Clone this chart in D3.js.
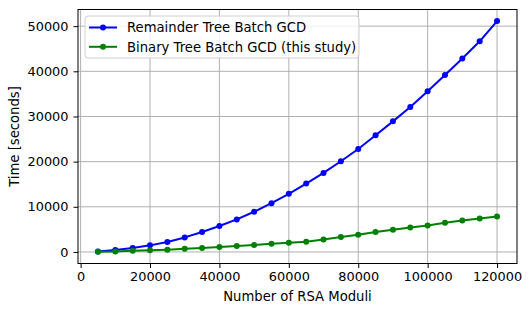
<!DOCTYPE html>
<html>
<head>
<meta charset="utf-8">
<script src="https://cdn.jsdelivr.net/npm/d3@7"></script>
<style>
  body { margin: 0; background: #fff; }
  text { font-family: "DejaVu Sans", sans-serif; }
</style>
</head>
<body>
<div id="chart"></div>
<script>
// number of moduli
const moduli = [5000, 10000, 15000, 20000, 25000, 30000, 35000, 40000, 45000, 50000,
  55000, 60000, 65000, 70000, 75000, 80000, 85000, 90000, 95000, 100000,
  105000, 110000, 115000, 120000];

// seconds
const remainderTree = [100, 450, 880, 1460, 2200, 3220, 4410, 5740, 7200, 8900,
  10800, 12870, 15150, 17500, 20090, 22800, 25830, 28920, 32080, 35600,
  39200, 42830, 46640, 51130];
const binaryTree = [50, 120, 280, 350, 500, 730, 880, 1100, 1320, 1540,
  1830, 2050, 2270, 2780, 3300, 3820, 4400, 4920, 5430, 5870,
  6470, 6980, 7420, 7860];

const xTicks = [0, 20000, 40000, 60000, 80000, 100000, 120000];
const yTicks = [0, 10000, 20000, 30000, 40000, 50000];

const series = [
  { name: 'Remainder Tree Batch GCD', values: remainderTree, color: '#0000ff' },
  { name: 'Binary Tree Batch GCD (this study)', values: binaryTree, color: '#008000' }
];

const width = 531, height = 313;
const margin = { top: 9.5, right: 14, bottom: 49.5, left: 78 };
const tickFont = '12.9px';
const labelFont = '13.2px';

const svg = d3.select('#chart').append('svg')
  .attr('width', width)
  .attr('height', height);

// matplotlib-style 5% margins
const xr = [5000, 120000], xpad = (xr[1] - xr[0]) * 0.05;
const yr = [0, d3.max(remainderTree)], ypad = (yr[1] - yr[0]) * 0.05;

const x = d3.scaleLinear()
  .domain([xr[0] - xpad, xr[1] + xpad])
  .range([margin.left, width - margin.right]);
const y = d3.scaleLinear()
  .domain([yr[0] - ypad, yr[1] + ypad])
  .range([height - margin.bottom, margin.top]);

// grid
svg.append('g')
  .selectAll('line.gx')
  .data(xTicks)
  .join('line')
  .attr('x1', d => x(d)).attr('x2', d => x(d))
  .attr('y1', margin.top).attr('y2', height - margin.bottom)
  .attr('stroke', '#b0b0b0').attr('stroke-width', 1);
svg.append('g')
  .selectAll('line.gy')
  .data(yTicks)
  .join('line')
  .attr('x1', margin.left).attr('x2', width - margin.right)
  .attr('y1', d => y(d)).attr('y2', d => y(d))
  .attr('stroke', '#b0b0b0').attr('stroke-width', 1);

// axes
const xAxis = svg.append('g')
  .attr('transform', `translate(0,${height - margin.bottom})`)
  .call(d3.axisBottom(x).tickValues(xTicks).tickFormat(d3.format('d')).tickSize(4.5).tickPadding(3.5));
const yAxis = svg.append('g')
  .attr('transform', `translate(${margin.left},0)`)
  .call(d3.axisLeft(y).tickValues(yTicks).tickFormat(d3.format('d')).tickSize(4.5).tickPadding(5));
[xAxis, yAxis].forEach(g => {
  g.select('.domain').remove();
  g.selectAll('.tick line').attr('stroke', '#000').attr('stroke-width', 1);
  g.selectAll('.tick text')
    .attr('fill', '#000')
    .style('font-size', tickFont)
    .style('font-family', '"DejaVu Sans", sans-serif');
});

// frame
svg.append('rect')
  .attr('x', margin.left).attr('y', margin.top)
  .attr('width', width - margin.left - margin.right)
  .attr('height', height - margin.top - margin.bottom)
  .attr('fill', 'none').attr('stroke', '#000').attr('stroke-width', 1);

// lines + markers
const line = d3.line()
  .x((d, i) => x(moduli[i]))
  .y(d => y(d));

series.forEach(s => {
  svg.append('path')
    .datum(s.values)
    .attr('d', line)
    .attr('fill', 'none')
    .attr('stroke', s.color)
    .attr('stroke-width', 2)
    .attr('stroke-linejoin', 'round');
  svg.append('g')
    .selectAll('circle')
    .data(s.values)
    .join('circle')
    .attr('cx', (d, i) => x(moduli[i]))
    .attr('cy', d => y(d))
    .attr('r', 3)
    .attr('fill', s.color);
});

// labels
svg.append('text')
  .attr('x', (margin.left + width - margin.right) / 2)
  .attr('y', 300.5)
  .attr('text-anchor', 'middle')
  .style('font-size', labelFont)
  .text('Number of RSA Moduli');
svg.append('text')
  .attr('transform', `translate(19,${(margin.top + height - margin.bottom) / 2}) rotate(-90)`)
  .attr('text-anchor', 'middle')
  .style('font-size', labelFont)
  .text('Time [seconds]');

// legend
const legend = svg.append('g');
legend.append('rect')
  .attr('x', 85).attr('y', 16)
  .attr('width', 274).attr('height', 42)
  .attr('rx', 3)
  .attr('fill', 'rgba(255,255,255,0.8)')
  .attr('stroke', '#d0d0d0').attr('stroke-width', 1);
series.forEach((s, i) => {
  const ly = 27.5 + i * 19.3;
  legend.append('line')
    .attr('x1', 89).attr('x2', 117)
    .attr('y1', ly).attr('y2', ly)
    .attr('stroke', s.color).attr('stroke-width', 2);
  legend.append('circle')
    .attr('cx', 103).attr('cy', ly).attr('r', 3).attr('fill', s.color);
  legend.append('text')
    .attr('x', 127).attr('y', ly)
    .attr('dy', '0.36em')
    .style('font-size', labelFont)
    .text(s.name);
});
</script>
</body>
</html>
